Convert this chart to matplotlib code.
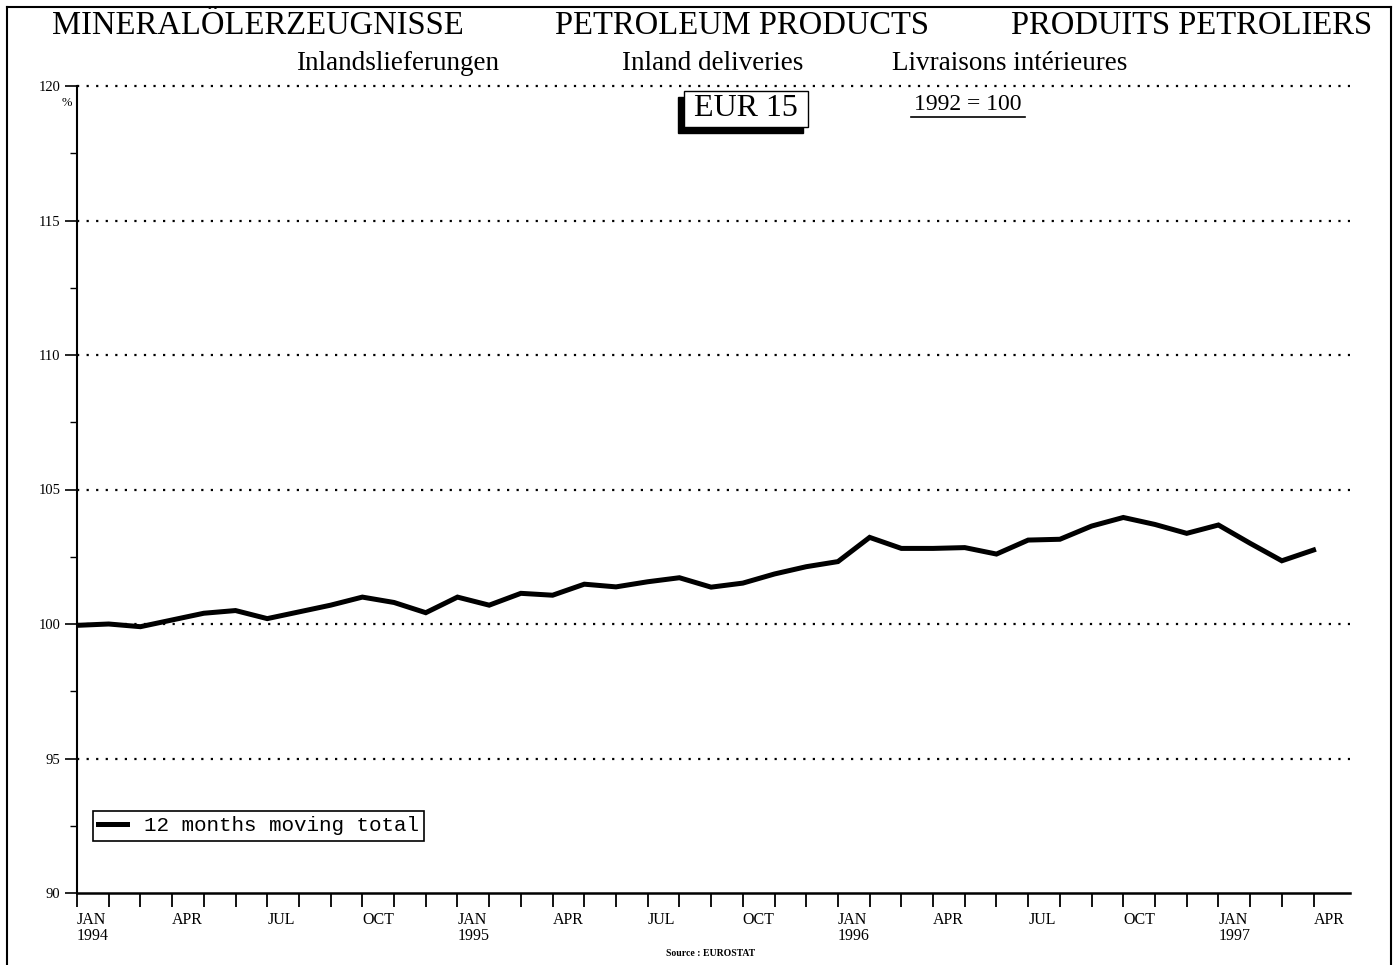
import matplotlib
matplotlib.use("Agg")
import matplotlib.pyplot as plt
from matplotlib.patches import Rectangle
from matplotlib.lines import Line2D

plt.rcParams['font.family'] = ['Liberation Serif', 'DejaVu Serif']

# ---- data ----
months = ["JAN", "FEB", "MAR", "APR", "MAY", "JUN", "JUL", "AUG", "SEP", "OCT", "NOV", "DEC"]
years = [1994, 1995, 1996, 1997]
values = [
    99.95, 100.0, 99.9, 100.15, 100.4, 100.5, 100.2, 100.45, 100.7, 101.0, 100.8, 100.42,   # 1994
    101.0, 100.7, 101.14, 101.07, 101.48, 101.38, 101.57, 101.72, 101.37, 101.52, 101.86, 102.13,  # 1995
    102.32, 103.22, 102.81, 102.81, 102.84, 102.6, 103.12, 103.15, 103.64, 103.96, 103.7, 103.37,  # 1996
    103.68, 103.0, 102.35, 102.75,  # 1997
]
series_label = "12 months moving total"
y_major = [90, 95, 100, 105, 110, 115, 120]

W, H = 1397, 965
fig = plt.figure(figsize=(W / 100, H / 100), dpi=100)

def fx(px):
    return px / W

def fy(py):
    return 1 - py / H

ax = fig.add_axes([fx(77), fy(893), fx(1350) - fx(77), fy(86) - fy(893)])
x = list(range(len(values)))
ax.plot(x, values, color='black', lw=3.6, solid_joinstyle='miter')

ax.set_xlim(0, 40.15)
ax.set_ylim(90, 120)

# grid
for yv in y_major[1:]:
    ax.axhline(yv, color='black', lw=1.6, linestyle=(0, (1.0, 3.3)), zorder=0, clip_on=False)

for s in ['top', 'right']:
    ax.spines[s].set_visible(False)
ax.spines['left'].set_linewidth(1.5)
ax.spines['bottom'].set_linewidth(1.8)

ax.set_yticks(y_major)
ax.set_yticklabels([str(v) for v in y_major], fontsize=10.5)
ax.set_yticks([92.5, 97.5, 102.5, 107.5, 112.5, 117.5], minor=True)
ax.tick_params(axis='y', which='major', direction='out', length=9, width=1.2, pad=3)
ax.tick_params(axis='y', which='minor', direction='out', length=5, width=1.0)

ax.set_xticks(x)
labels = []
for i in x:
    m = months[i % 12]
    if i % 3 == 0:
        if i % 12 == 0:
            labels.append(f"{m}\n{years[i // 12]}")
        else:
            labels.append(m)
    else:
        labels.append("")
ax.set_xticklabels(labels, fontsize=11.5, ha='left', linespacing=0.95)
ax.tick_params(axis='x', direction='out', length=10, width=1.3, pad=4)
for lab in ax.get_xticklabels():
    lab.set_horizontalalignment('left')

# "%" label
fig.text(fx(67), fy(103), "%", fontsize=9, ha='center', va='center')

# legend
leg = ax.legend([Line2D([0], [0], color='black', lw=3.6)], [series_label],
                loc='lower left', bbox_to_anchor=(0.0125, 0.065),
                frameon=True, fancybox=False, edgecolor='black', framealpha=1,
                prop={'family': 'Liberation Mono', 'size': 15},
                handlelength=1.4, handletextpad=0.8, borderpad=0.25, borderaxespad=0)
leg.get_frame().set_linewidth(1.2)

# titles
fig.text(fx(258), fy(26), "MINERALÖLERZEUGNISSE", fontsize=23.5, ha='center', va='center')
fig.text(fx(742), fy(26), "PETROLEUM PRODUCTS", fontsize=23.5, ha='center', va='center')
fig.text(fx(1192), fy(26), "PRODUITS PETROLIERS", fontsize=23.5, ha='center', va='center')
fig.text(fx(398), fy(64), "Inlandslieferungen", fontsize=19.5, ha='center', va='center')
fig.text(fx(713), fy(64), "Inland deliveries", fontsize=19.5, ha='center', va='center')
fig.text(fx(1010), fy(64), "Livraisons intérieures", fontsize=19.5, ha='center', va='center')

# EUR 15 box with shadow
fig.patches.append(Rectangle((fx(678), fy(133)), fx(803) - fx(678), fy(97) - fy(133),
                             transform=fig.transFigure, facecolor='black', edgecolor='black', zorder=5))
fig.patches.append(Rectangle((fx(684), fy(127)), fx(808) - fx(684), fy(91) - fy(127),
                             transform=fig.transFigure, facecolor='white', edgecolor='black', lw=1.0, zorder=6))
fig.text(fx(746), fy(109), "EUR 15", fontsize=23, ha='center', va='center', zorder=7)

# 1992 = 100 underlined
fig.text(fx(968), fy(105), "1992 = 100", fontsize=17, ha='center', va='center')
fig.add_artist(Line2D([fx(911), fx(1025)], [fy(117), fy(117)], color='black', lw=1.2, transform=fig.transFigure))

# source
fig.text(fx(711), fy(953), "Source : EUROSTAT", fontsize=7, ha='center', va='center', fontweight='bold')

# outer frame
fig.add_artist(Line2D([fx(7), fx(7)], [fy(7), 0], color='black', lw=1.5, transform=fig.transFigure))
fig.add_artist(Line2D([fx(1391), fx(1391)], [fy(7), 0], color='black', lw=1.5, transform=fig.transFigure))
fig.add_artist(Line2D([fx(7), fx(1391)], [fy(7), fy(7)], color='black', lw=1.5, transform=fig.transFigure))

fig.savefig("out.png", dpi=100)
